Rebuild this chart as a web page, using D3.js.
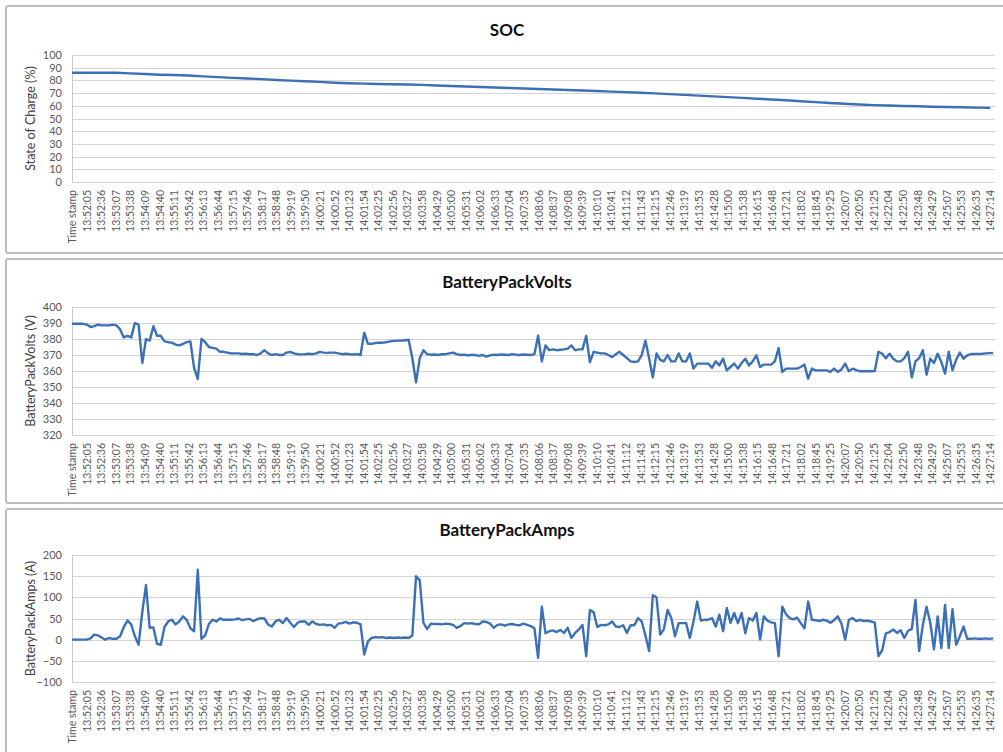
<!DOCTYPE html>
<html><head><meta charset="utf-8">
<script src="https://cdn.jsdelivr.net/npm/d3@7"></script>
<style>
body{margin:0;background:#fff;overflow:hidden;}
svg{display:block;font-family:Lato,"Open Sans",sans-serif;}
</style>
</head><body>
<svg id="chart" width="1003" height="752"></svg>
<script>
const timeLabels = ["Time stamp","13:52:05","13:52:36","13:53:07","13:53:38","13:54:09","13:54:40","13:55:11","13:55:42","13:56:13","13:56:44","13:57:15","13:57:46","13:58:17","13:58:48","13:59:19","13:59:50","14:00:21","14:00:52","14:01:23","14:01:54","14:02:25","14:02:56","14:03:27","14:03:58","14:04:29","14:05:00","14:05:31","14:06:02","14:06:33","14:07:04","14:07:35","14:08:06","14:08:37","14:09:08","14:09:39","14:10:10","14:10:41","14:11:12","14:11:43","14:12:15","14:12:46","14:13:19","14:13:53","14:14:28","14:15:00","14:15:38","14:16:15","14:16:48","14:17:21","14:18:02","14:18:45","14:19:25","14:20:07","14:20:50","14:21:25","14:22:04","14:22:50","14:23:48","14:24:29","14:25:07","14:25:53","14:26:35","14:27:14"];

// SOC, one reading per labelled timestamp
const socValues = [86,86,86,86,85.5,85,84.5,84.2,83.8,83.2,82.6,82,81.5,81,80.3,79.8,79.3,78.8,78.2,77.8,77.5,77.2,77,76.8,76.5,76,75.6,75.2,74.8,74.4,74,73.6,73.2,72.8,72.4,72,71.6,71.2,70.8,70.3,69.8,69.2,68.6,68,67.4,66.8,66.2,65.6,65,64.4,63.6,62.9,62.2,61.6,61,60.5,60.2,59.9,59.6,59.3,59,58.8,58.6,58.4];

// Volts samples
const voltsValues = [
389.5,389.5,389.5,389.5,389,387.5,388,389,388.5,388.5,
388.5,389,388.5,386,381,382,381,390,389,365,
380,379,388,382,382,378.5,378,377.7,376.5,376,
377,378,378.5,362,355,380,378,375,374.5,374,
372,372,371.5,371,371,371,370.6,370.8,370.5,370.5,
370,371,373,371,370,370.5,370,370,371.5,372,
371,370.5,370.4,370.5,370.8,370.5,371,372,371.5,371.3,
371.5,371.5,371,370.5,370.8,370.5,370.3,370.5,370,384,
377,377,377.5,377.7,377.7,378,378.5,378.8,379,379,
379.2,379.5,368,353,368,373,370.5,370.2,370.3,370,
370.5,370.5,371,371.5,370.5,370,370.2,369.8,370,370,
369.5,370,369,369.8,370.2,370,370.3,370.2,370,370.5,
370.2,370,370.3,370.2,370,370.5,382,366,376,373,
373.5,373,373.3,373.5,374,376,373,373.5,373.5,382,
365.5,372,371.5,371,371,370,368.7,370.5,372,370,
368,366,365.6,366,370,379,368,356,371,367,
366,370,366,366,371,366,366,371,361.5,364.6,
364.6,364.6,364.6,362,366,363.5,367.7,360.4,362.5,364.6,
361.5,365,367.7,363.5,366,369.8,362.5,364,364,364,
366,374.4,359.4,361.5,361.5,361.5,361.5,362.5,364,355.2,
361.5,360.4,360.4,360.4,360.4,359.4,361.5,359.4,361,364.6,
359.8,361.5,360.5,359.8,359.8,359.8,359.8,360,372,370.8,
368,370.8,367.7,366,366,368,372,356,366,368,
373,357.7,367.7,365,370.8,365.6,358.3,372,360.4,367,
371.5,367.7,369.8,370.6,370.6,370.7,370.8,371,371.2,371.3];

// Amps samples
const ampsValues = [
0,0,0,0,0,3,12,10,5,0,
4,2,2,8,30,45,36,8,-12,65,
129,28,29,-10,-12,30,43,47,36,43,
55,47,27,20,165,2,10,37,47,43,
50,47,47,47,48,50,46,48,49,44,
48,51,50,36,31,43,47,39,51,40,
30,40,43,43,35,43,37,35,36,34,
35,28,38,39,42,38,41,40,36,-35,
-4,4,6,5,6,4,5,4,5,4,
5,4,10,150,140,40,25,38,37,37,
36,38,37,35,28,32,39,38,39,37,
36,43,42,38,28,35,36,33,36,37,
35,34,38,35,32,27,-43,78,15,20,
22,18,23,16,28,4,16,24,35,-39,
70,65,30,35,34,36,43,31,30,34,
16,34,34,51,43,10,-27,105,100,12,
25,70,51,8,39,39,39,4,43,90,
45,47,47,51,31,59,20,75,40,63,
39,63,15,51,45,63,0,55,45,41,
39,-39,78,60,51,48,52,39,27,90,
47,46,44,47,45,40,46,55,38,0,
47,51,44,47,44,45,43,40,-39,-25,
15,18,24,16,22,4,21,25,94,-27,
35,78,40,-23,55,-20,82,-20,72,-12,
8,31,2,2,3,2,2,3,2,3];

const samplesPerLabel = 3.94;   // samples between two labelled timestamps
const socTicks = d3.range(0, 101, 10);
const voltsTicks = d3.range(320, 401, 10);
const ampsTicks = d3.range(-100, 201, 50);

const svg = d3.select("#chart");
// x in sample units
const x = d3.scaleLinear().domain([0, 249.5]).range([72, 995]);

const panels = [
  {title:"SOC", yTitle:"State of Charge (%)", data:socValues, per:samplesPerLabel, ticks:socTicks, box:[6,253], titleY:30, plot:[55,182]},
  {title:"BatteryPackVolts", yTitle:"BatteryPackVolts (V)", data:voltsValues, per:1, ticks:voltsTicks, box:[259,503], titleY:282, plot:[307,435]},
  {title:"BatteryPackAmps", yTitle:"BatteryPackAmps (A)", data:ampsValues, per:1, ticks:ampsTicks, box:[509,790], titleY:530, plot:[555,682]}
];

panels.forEach(p => {
  const g = svg.append("g");
  g.append("rect")
    .attr("x", 6).attr("y", p.box[0])
    .attr("width", 1010).attr("height", p.box[1] - p.box[0])
    .attr("rx", 2)
    .attr("fill", "#fff").attr("stroke", "#bdbdbd").attr("stroke-width", 2);

  g.append("text")
    .attr("x", 507).attr("y", p.titleY).attr("dy", "0.35em")
    .attr("text-anchor", "middle")
    .style("font-weight", "bold").style("font-size", "17px").style("fill", "#111")
    .text(p.title);

  const y = d3.scaleLinear().domain(d3.extent(p.ticks)).range([p.plot[1], p.plot[0]]);

  g.append("g").selectAll("line").data(p.ticks).join("line")
    .attr("x1", x.range()[0]).attr("x2", x.range()[1])
    .attr("y1", d => Math.round(y(d)) + 0.5).attr("y2", d => Math.round(y(d)) + 0.5)
    .attr("stroke", "#d4d4d4").attr("stroke-width", 1);

  g.append("line")
    .attr("x1", x.range()[0] + 0.5).attr("x2", x.range()[0] + 0.5)
    .attr("y1", p.plot[0]).attr("y2", p.plot[1])
    .attr("stroke", "#c8c8c8");

  const ya = g.append("g").attr("transform", `translate(${x.range()[0]},0)`)
    .call(d3.axisLeft(y).tickValues(p.ticks).tickSize(0).tickPadding(10));
  ya.select(".domain").remove();
  ya.selectAll("text").style("font-size", "11px").style("fill", "#595959").style("font-family", "Lato");

  g.append("text")
    .attr("transform", `translate(31,${(p.plot[0] + p.plot[1]) / 2}) rotate(-90)`)
    .attr("text-anchor", "middle").attr("dy", "0.35em")
    .style("font-size", "12.5px").style("fill", "#404040")
    .text(p.yTitle);

  const xa = g.append("g").attr("transform", `translate(0,${p.plot[1]})`)
    .call(d3.axisBottom(x).tickValues(d3.range(timeLabels.length).map(i => i * samplesPerLabel))
      .tickFormat((d, i) => timeLabels[i]).tickSize(0));
  xa.select(".domain").remove();
  xa.selectAll("text")
    .attr("transform", "rotate(-90)")
    .attr("x", -8).attr("y", 0).attr("dy", "0.35em")
    .style("text-anchor", "end")
    .style("font-size", "10.5px").style("fill", "#595959").style("font-family", "Lato");

  const line = d3.line()
    .x((d, i) => x(i * p.per))
    .y(d => y(d));
  g.append("path")
    .datum(p.data)
    .attr("fill", "none")
    .attr("stroke", "#3c70b6")
    .attr("stroke-width", 2.4)
    .attr("stroke-linejoin", "round")
    .attr("d", line);
});
</script>
</body></html>
